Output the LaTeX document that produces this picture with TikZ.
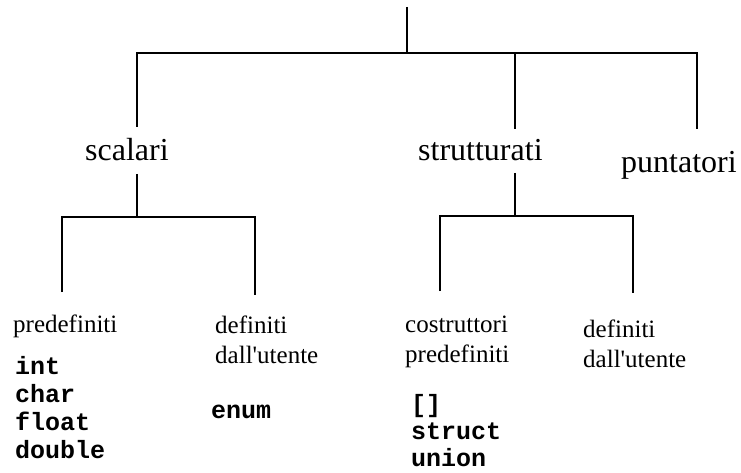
\documentclass[tikz,border=0pt]{standalone}
\usepackage{fontspec}
\setmainfont{Liberation Serif}
\newfontfamily\codefont{Liberation Mono}
\begin{document}
\begin{tikzpicture}[x=1pt,y=-1pt,
  tree/.style={line width=1.6pt, line join=miter},
  toplabel/.style={font=\fontsize{32}{38}\selectfont, inner sep=0pt, anchor=base west},
  sublabel/.style={font=\fontsize{25}{30}\selectfont, inner sep=0pt, anchor=base west, align=left},
  codelabel/.style={font=\codefont\bfseries\fontsize{25}{28}\selectfont, inner sep=0pt, anchor=base west, align=left}]
\useasboundingbox (0,0) rectangle (741,473);

% labels (multi-line nodes are placed by the baseline of their last line)
\node[toplabel] (scalari) at (85,161) {scalari};
\node[toplabel] (strutturati) at (418,161) {strutturati};
\node[toplabel] (puntatori) at (621,173) {puntatori};
\node[sublabel] (predef) at (13,332) {predefiniti};
\node[sublabel] (defA) at (215,363) {definiti\\dall\textquotesingle utente};
\node[sublabel] (costr) at (405,362) {costruttori\\predefiniti};
\node[sublabel] (defB) at (583,367) {definiti\\dall\textquotesingle utente};
\node[codelabel] (codeA) at (15,458) {int\\char\\float\\double};
\node[codelabel] (codeB) at (211,418) {enum};
\node[codelabel, font=\codefont\bfseries\fontsize{25}{27}\selectfont] (codeC) at (411,466) {[]\\struct\\union};

% junction coordinates
\coordinate (rootTop) at (407,7);
\coordinate (rootJ) at (407,53);
\coordinate (barL) at (137,53);
\coordinate (barM) at (515,53);
\coordinate (barR) at (697,53);
\coordinate (scEnd) at (137,127);
\coordinate (stEnd) at (515,129);
\coordinate (puEnd) at (697,129);

\coordinate (scBot) at (137,174);
\coordinate (scJ) at (137,217);
\coordinate (scL) at (62,217);
\coordinate (scR) at (255,217);
\coordinate (scLEnd) at (62,292);
\coordinate (scREnd) at (255,295);

\coordinate (stBot) at (515,173);
\coordinate (stJ) at (515,216);
\coordinate (stL) at (440,216);
\coordinate (stR) at (633,216);
\coordinate (stLEnd) at (440,291);
\coordinate (stREnd) at (633,293);

% connectors
\draw[tree] (rootTop) -- (rootJ);
\draw[tree] (scEnd) -- (barL) -- (barR) -- (puEnd);
\draw[tree] (barM) -- (stEnd);

\draw[tree] (scBot) -- (scJ);
\draw[tree] (scLEnd) -- (scL) -- (scR) -- (scREnd);

\draw[tree] (stBot) -- (stJ);
\draw[tree] (stLEnd) -- (stL) -- (stR) -- (stREnd);
\end{tikzpicture}
\end{document}
